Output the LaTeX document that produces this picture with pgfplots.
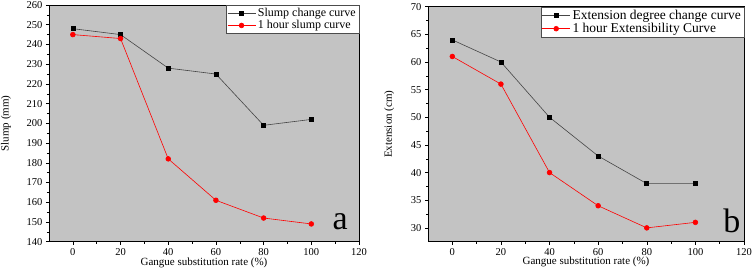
\documentclass[border=0pt]{standalone}
\usepackage{pgfplots}
\pgfplotsset{compat=1.18}
\usepackage{fontspec}
\setmainfont{Liberation Serif}
\definecolor{bggray}{RGB}{195,195,195}
\definecolor{lineg}{RGB}{70,70,70}
\pgfplotsset{
  myax/.style={
    scale only axis,
    anchor=south west,
    xmin=-10, xmax=120,
    xtick={0,20,...,120},
    minor x tick num=1,
    axis background/.style={fill=bggray},
    tick align=outside,
    xtick pos=bottom, ytick pos=left,
    major tick length=3pt, minor tick length=2pt,
    tick style={black, line width=0.5pt},
    axis line style={black, line width=0.6pt},
    /pgf/number format/assume math mode=true,
    ticklabel style={font=\fontsize{10.5}{11}\selectfont},
    label style={font=\fontsize{11}{12}\selectfont},
    xlabel={Gangue substitution rate (\%)},
    legend style={at={(1,1)}, anchor=north east, draw=gray!60!black, fill=white,
      inner sep=1pt, row sep=-1.5pt, cells={anchor=west}},
    legend cell align=left,
    legend image code/.code={\draw[mark repeat=2,mark phase=2] plot coordinates {(0pt,0pt) (14pt,0pt) (28pt,0pt)};},
  },
  blk/.style={lineg, line width=0.6pt, mark=square*, mark size=2pt, mark options={black, fill=black}},
  rd/.style={red, line width=0.6pt, mark=*, mark size=2.4pt, mark options={red, fill=red}},
}
\begin{document}
\begin{tikzpicture}
\useasboundingbox (0,0) rectangle (753pt,279pt);
\begin{axis}[myax,
  at={(49pt,37.3pt)}, width=310pt, height=236.7pt,
  ymin=140, ymax=260, ytick={140,150,...,260}, minor y tick num=1,
  ylabel={Slump (mm)}, ylabel style={at={(axis description cs:-0.139,0.5)}, anchor=center},
  xlabel style={at={(axis description cs:0.5,-0.09)}, anchor=center},
  legend style={font=\fontsize{12}{13}\selectfont},
]
\addplot[blk] coordinates {(0,248) (20,245) (40,228) (60,225) (80,199) (100,202)};
\addlegendentry{Slump change curve}
\addplot[rd] coordinates {(0,245) (20,243) (40,182) (60,161) (80,152) (100,149)};
\addlegendentry{1 hour slump curve}
\node[anchor=base, font=\fontsize{34}{34}\selectfont] at (rel axis cs:0.939,0.05) {a};
\end{axis}
\begin{axis}[myax,
  at={(428pt,37.3pt)}, width=316pt, height=235pt,
  ymin=27.5, ymax=70, ytick={30,35,...,70}, minor y tick num=1,
  ylabel={Extension (cm)}, ylabel style={at={(axis description cs:-0.123,0.5)}, anchor=center},
  xlabel style={at={(axis description cs:0.5,-0.086)}, anchor=center},
  legend style={font=\fontsize{13.5}{14}\selectfont},
]
\addplot[blk] coordinates {(0,64) (20,60) (40,50) (60,43) (80,38) (100,38)};
\addlegendentry{Extension degree change curve}
\addplot[rd] coordinates {(0,61) (20,56) (40,40) (60,34) (80,30) (100,31)};
\addlegendentry{1 hour Extensibility Curve}
\node[anchor=base, font=\fontsize{34}{34}\selectfont] at (rel axis cs:0.962,0.041) {b};
\end{axis}
\end{tikzpicture}
\end{document}
